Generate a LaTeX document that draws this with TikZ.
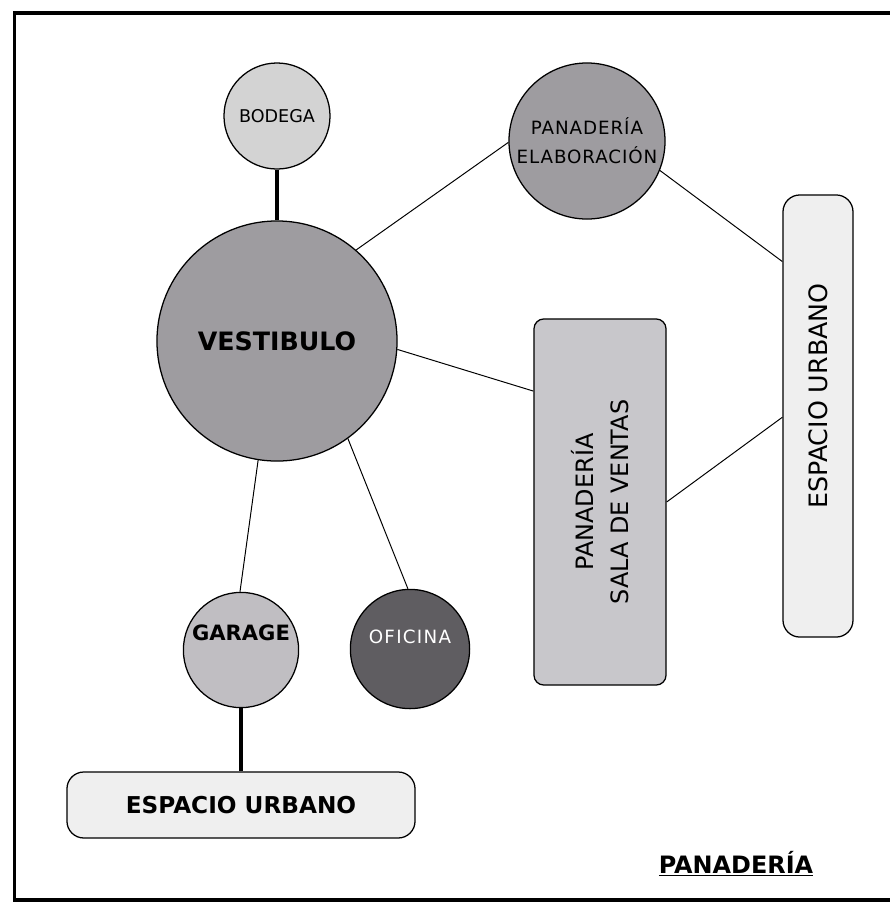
\documentclass[tikz,border=0pt]{standalone}
\usepackage{fontspec}
\setmainfont{DejaVu Sans}
\usepackage{xcolor}
\usetikzlibrary{positioning}

\definecolor{vestgray}{HTML}{9E9CA0}
\definecolor{bodgray}{HTML}{D3D3D3}
\definecolor{garagegray}{HTML}{C0BEC2}
\definecolor{ofigray}{HTML}{5F5D61}
\definecolor{salagray}{HTML}{C8C7CB}
\definecolor{urbgray}{HTML}{EFEFEF}

\begin{document}
\begin{tikzpicture}[x=0.025cm, y=-0.025cm,
    room/.style={draw, circle, inner sep=0pt, line width=0.9pt, align=center},
    zone/.style={draw, rectangle, inner sep=0pt, line width=0.9pt},
    link/.style={line width=0.7pt},
    stem/.style={line width=2.2pt}
]
\useasboundingbox (0,0) rectangle (890,904);
\draw[line width=2.2pt] (890,13) -- (14.5,13) -- (14.5,900) -- (890,900);

% rooms
\node[room, fill=bodgray, minimum size=2.65cm, font=\fontsize{12.5}{15}\selectfont] (bod) at (277,116) {BODEGA};
\node[room, fill=vestgray, minimum size=6cm, font=\fontsize{18}{22}\selectfont\bfseries] (vest) at (277,341) {VESTIBULO};
\node[room, fill=vestgray, minimum size=3.9cm, font=\fontsize{13}{20.5}\selectfont\addfontfeature{LetterSpace=5}] (elab) at (587,141) {PANADERÍA\\ELABORACIÓN};
\node[room, fill=garagegray, minimum size=2.88cm, font=\fontsize{15}{18}\selectfont\bfseries] (gar) at (241,650) {GARAGE\\[6pt]};
\node[room, fill=ofigray, minimum size=2.98cm, text=white, font=\fontsize{13}{15}\selectfont\addfontfeature{LetterSpace=7}] (ofi) at (410,649) {OFICINA\\[3pt]};

% zones
\node[zone, fill=salagray, rounded corners=7pt, minimum width=3.3cm, minimum height=9.15cm,
      label={[rotate=90, align=center, font=\fontsize{17}{25}\selectfont]center:PANADERÍA\\SALA DE VENTAS}] (sala) at (600,502) {};
\node[zone, fill=urbgray, rounded corners=12pt, minimum width=1.75cm, minimum height=11.05cm,
      label={[shift={(0,-20)}, rotate=90, font=\fontsize{18}{20}\selectfont]center:ESPACIO URBANO}] (eur) at (818,416) {};
\node[zone, fill=urbgray, rounded corners=12pt, minimum width=8.7cm, minimum height=1.65cm,
      font=\fontsize{16.5}{19}\selectfont\bfseries] (eub) at (241,805) {ESPACIO URBANO};

\node[font=\fontsize{17}{20}\selectfont\bfseries] (title) at (736,864) {\underline{PANADERÍA}};

% links
\draw[stem] (bod) -- (vest);
\draw[stem] (gar.south) -- (gar.south |- eub.north);
\draw[link] (vest.49) -- (elab.181);
\draw[link] (elab.-22) -- (eur.103);
\draw[link] (vest.-4) -- (sala.121.6);
\draw[link] (sala.east) -- (eur.182);
\draw[link] (vest.261) -- (gar.91);
\draw[link] (vest.-54) -- (ofi.92);
\end{tikzpicture}
\end{document}
